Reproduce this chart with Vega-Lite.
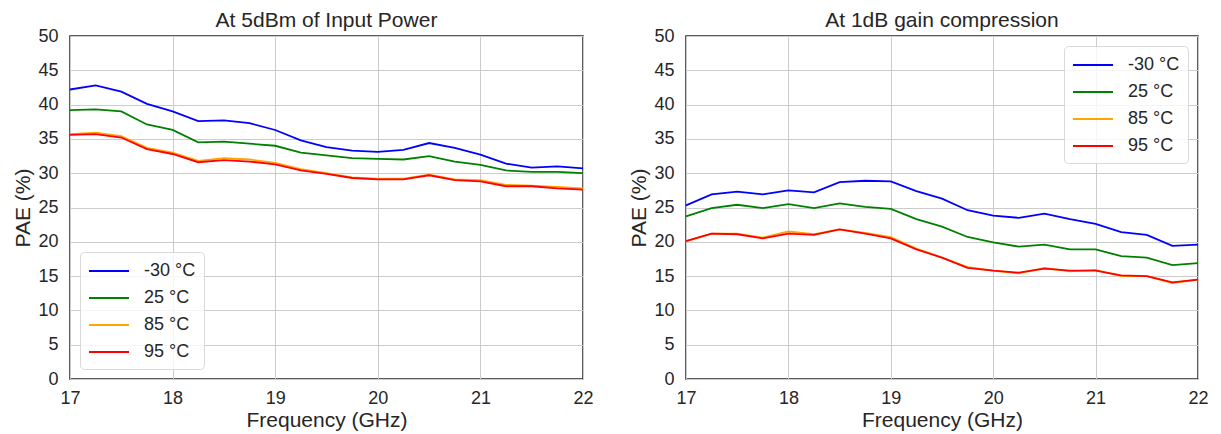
{
  "$schema": "https://vega.github.io/schema/vega-lite/v6.json",
  "padding": {"left": 12, "top": 9, "right": 5, "bottom": 0},
  "autosize": {"type": "pad"},
  "config": {
    "font": "Liberation Sans",
    "view": {"stroke": "#262626", "strokeWidth": 1.5},
    "axis": {"grid": true, "gridColor": "#cccccc", "gridWidth": 1, "domain": false, "ticks": false, "tickSize": 0, "labelFlush": false, "labelOverlap": false, "labelFontSize": 18, "labelColor": "#262626", "titleFontSize": 21, "titleFontWeight": "normal", "titleColor": "#262626"},
    "axisX": {"labelPadding": 10, "titlePadding": 2},
    "axisY": {"labelPadding": 12, "titlePadding": 4},
    "title": {"fontSize": 21, "fontWeight": "normal", "color": "#262626", "offset": -4},
    "legend": {"symbolType": "M-1,0H3", "symbolSize": 400, "symbolStrokeWidth": 2, "labelFontSize": 18, "labelColor": "#262626", "padding": 8, "rowPadding": 7, "labelOffset": 34, "fillColor": "rgba(255,255,255,0.8)", "strokeColor": "#d9d9d9", "cornerRadius": 4, "offset": 10},
    "concat": {"spacing": 34}
  },
  "data": {"values": [
    {"p":"L","f":17,"t":"-30 °C","v":42.2},{"p":"L","f":17.25,"t":"-30 °C","v":42.8},{"p":"L","f":17.5,"t":"-30 °C","v":41.9},{"p":"L","f":17.75,"t":"-30 °C","v":40.1},{"p":"L","f":18,"t":"-30 °C","v":39.0},{"p":"L","f":18.25,"t":"-30 °C","v":37.6},{"p":"L","f":18.5,"t":"-30 °C","v":37.7},{"p":"L","f":18.75,"t":"-30 °C","v":37.3},{"p":"L","f":19,"t":"-30 °C","v":36.3},{"p":"L","f":19.25,"t":"-30 °C","v":34.8},{"p":"L","f":19.5,"t":"-30 °C","v":33.8},{"p":"L","f":19.75,"t":"-30 °C","v":33.3},{"p":"L","f":20,"t":"-30 °C","v":33.1},{"p":"L","f":20.25,"t":"-30 °C","v":33.4},{"p":"L","f":20.5,"t":"-30 °C","v":34.4},{"p":"L","f":20.75,"t":"-30 °C","v":33.7},{"p":"L","f":21,"t":"-30 °C","v":32.7},{"p":"L","f":21.25,"t":"-30 °C","v":31.4},{"p":"L","f":21.5,"t":"-30 °C","v":30.8},{"p":"L","f":21.75,"t":"-30 °C","v":31.0},{"p":"L","f":22,"t":"-30 °C","v":30.7},
    {"p":"L","f":17,"t":"25 °C","v":39.2},{"p":"L","f":17.25,"t":"25 °C","v":39.3},{"p":"L","f":17.5,"t":"25 °C","v":39.0},{"p":"L","f":17.75,"t":"25 °C","v":37.1},{"p":"L","f":18,"t":"25 °C","v":36.3},{"p":"L","f":18.25,"t":"25 °C","v":34.5},{"p":"L","f":18.5,"t":"25 °C","v":34.6},{"p":"L","f":18.75,"t":"25 °C","v":34.3},{"p":"L","f":19,"t":"25 °C","v":34.0},{"p":"L","f":19.25,"t":"25 °C","v":33.0},{"p":"L","f":19.5,"t":"25 °C","v":32.6},{"p":"L","f":19.75,"t":"25 °C","v":32.2},{"p":"L","f":20,"t":"25 °C","v":32.1},{"p":"L","f":20.25,"t":"25 °C","v":32.0},{"p":"L","f":20.5,"t":"25 °C","v":32.5},{"p":"L","f":20.75,"t":"25 °C","v":31.7},{"p":"L","f":21,"t":"25 °C","v":31.2},{"p":"L","f":21.25,"t":"25 °C","v":30.4},{"p":"L","f":21.5,"t":"25 °C","v":30.2},{"p":"L","f":21.75,"t":"25 °C","v":30.2},{"p":"L","f":22,"t":"25 °C","v":30.0},
    {"p":"L","f":17,"t":"85 °C","v":35.7},{"p":"L","f":17.25,"t":"85 °C","v":35.9},{"p":"L","f":17.5,"t":"85 °C","v":35.4},{"p":"L","f":17.75,"t":"85 °C","v":33.7},{"p":"L","f":18,"t":"85 °C","v":33.0},{"p":"L","f":18.25,"t":"85 °C","v":31.8},{"p":"L","f":18.5,"t":"85 °C","v":32.2},{"p":"L","f":18.75,"t":"85 °C","v":32.0},{"p":"L","f":19,"t":"85 °C","v":31.5},{"p":"L","f":19.25,"t":"85 °C","v":30.6},{"p":"L","f":19.5,"t":"85 °C","v":30.0},{"p":"L","f":19.75,"t":"85 °C","v":29.4},{"p":"L","f":20,"t":"85 °C","v":29.2},{"p":"L","f":20.25,"t":"85 °C","v":29.2},{"p":"L","f":20.5,"t":"85 °C","v":29.8},{"p":"L","f":20.75,"t":"85 °C","v":29.1},{"p":"L","f":21,"t":"85 °C","v":29.0},{"p":"L","f":21.25,"t":"85 °C","v":28.3},{"p":"L","f":21.5,"t":"85 °C","v":28.2},{"p":"L","f":21.75,"t":"85 °C","v":28.0},{"p":"L","f":22,"t":"85 °C","v":27.8},
    {"p":"L","f":17,"t":"95 °C","v":35.6},{"p":"L","f":17.25,"t":"95 °C","v":35.7},{"p":"L","f":17.5,"t":"95 °C","v":35.2},{"p":"L","f":17.75,"t":"95 °C","v":33.5},{"p":"L","f":18,"t":"95 °C","v":32.8},{"p":"L","f":18.25,"t":"95 °C","v":31.6},{"p":"L","f":18.5,"t":"95 °C","v":31.9},{"p":"L","f":18.75,"t":"95 °C","v":31.7},{"p":"L","f":19,"t":"95 °C","v":31.3},{"p":"L","f":19.25,"t":"95 °C","v":30.4},{"p":"L","f":19.5,"t":"95 °C","v":29.9},{"p":"L","f":19.75,"t":"95 °C","v":29.3},{"p":"L","f":20,"t":"95 °C","v":29.1},{"p":"L","f":20.25,"t":"95 °C","v":29.1},{"p":"L","f":20.5,"t":"95 °C","v":29.7},{"p":"L","f":20.75,"t":"95 °C","v":29.0},{"p":"L","f":21,"t":"95 °C","v":28.8},{"p":"L","f":21.25,"t":"95 °C","v":28.1},{"p":"L","f":21.5,"t":"95 °C","v":28.1},{"p":"L","f":21.75,"t":"95 °C","v":27.8},{"p":"L","f":22,"t":"95 °C","v":27.6},
    {"p":"R","f":17,"t":"-30 °C","v":25.3},{"p":"R","f":17.25,"t":"-30 °C","v":26.9},{"p":"R","f":17.5,"t":"-30 °C","v":27.3},{"p":"R","f":17.75,"t":"-30 °C","v":26.9},{"p":"R","f":18,"t":"-30 °C","v":27.5},{"p":"R","f":18.25,"t":"-30 °C","v":27.2},{"p":"R","f":18.5,"t":"-30 °C","v":28.7},{"p":"R","f":18.75,"t":"-30 °C","v":28.9},{"p":"R","f":19,"t":"-30 °C","v":28.8},{"p":"R","f":19.25,"t":"-30 °C","v":27.4},{"p":"R","f":19.5,"t":"-30 °C","v":26.3},{"p":"R","f":19.75,"t":"-30 °C","v":24.6},{"p":"R","f":20,"t":"-30 °C","v":23.8},{"p":"R","f":20.25,"t":"-30 °C","v":23.5},{"p":"R","f":20.5,"t":"-30 °C","v":24.1},{"p":"R","f":20.75,"t":"-30 °C","v":23.3},{"p":"R","f":21,"t":"-30 °C","v":22.6},{"p":"R","f":21.25,"t":"-30 °C","v":21.4},{"p":"R","f":21.5,"t":"-30 °C","v":21.0},{"p":"R","f":21.75,"t":"-30 °C","v":19.4},{"p":"R","f":22,"t":"-30 °C","v":19.6},
    {"p":"R","f":17,"t":"25 °C","v":23.7},{"p":"R","f":17.25,"t":"25 °C","v":24.9},{"p":"R","f":17.5,"t":"25 °C","v":25.4},{"p":"R","f":17.75,"t":"25 °C","v":24.9},{"p":"R","f":18,"t":"25 °C","v":25.5},{"p":"R","f":18.25,"t":"25 °C","v":24.9},{"p":"R","f":18.5,"t":"25 °C","v":25.6},{"p":"R","f":18.75,"t":"25 °C","v":25.1},{"p":"R","f":19,"t":"25 °C","v":24.8},{"p":"R","f":19.25,"t":"25 °C","v":23.3},{"p":"R","f":19.5,"t":"25 °C","v":22.2},{"p":"R","f":19.75,"t":"25 °C","v":20.7},{"p":"R","f":20,"t":"25 °C","v":19.9},{"p":"R","f":20.25,"t":"25 °C","v":19.3},{"p":"R","f":20.5,"t":"25 °C","v":19.6},{"p":"R","f":20.75,"t":"25 °C","v":18.9},{"p":"R","f":21,"t":"25 °C","v":18.9},{"p":"R","f":21.25,"t":"25 °C","v":17.9},{"p":"R","f":21.5,"t":"25 °C","v":17.7},{"p":"R","f":21.75,"t":"25 °C","v":16.6},{"p":"R","f":22,"t":"25 °C","v":16.9},
    {"p":"R","f":17,"t":"85 °C","v":20.1},{"p":"R","f":17.25,"t":"85 °C","v":21.2},{"p":"R","f":17.5,"t":"85 °C","v":21.2},{"p":"R","f":17.75,"t":"85 °C","v":20.6},{"p":"R","f":18,"t":"85 °C","v":21.5},{"p":"R","f":18.25,"t":"85 °C","v":21.1},{"p":"R","f":18.5,"t":"85 °C","v":21.8},{"p":"R","f":18.75,"t":"85 °C","v":21.3},{"p":"R","f":19,"t":"85 °C","v":20.7},{"p":"R","f":19.25,"t":"85 °C","v":19.0},{"p":"R","f":19.5,"t":"85 °C","v":17.7},{"p":"R","f":19.75,"t":"85 °C","v":16.3},{"p":"R","f":20,"t":"85 °C","v":15.8},{"p":"R","f":20.25,"t":"85 °C","v":15.4},{"p":"R","f":20.5,"t":"85 °C","v":16.2},{"p":"R","f":20.75,"t":"85 °C","v":15.7},{"p":"R","f":21,"t":"85 °C","v":15.9},{"p":"R","f":21.25,"t":"85 °C","v":15.0},{"p":"R","f":21.5,"t":"85 °C","v":15.0},{"p":"R","f":21.75,"t":"85 °C","v":14.0},{"p":"R","f":22,"t":"85 °C","v":14.5},
    {"p":"R","f":17,"t":"95 °C","v":20.1},{"p":"R","f":17.25,"t":"95 °C","v":21.2},{"p":"R","f":17.5,"t":"95 °C","v":21.1},{"p":"R","f":17.75,"t":"95 °C","v":20.5},{"p":"R","f":18,"t":"95 °C","v":21.2},{"p":"R","f":18.25,"t":"95 °C","v":21.0},{"p":"R","f":18.5,"t":"95 °C","v":21.8},{"p":"R","f":18.75,"t":"95 °C","v":21.2},{"p":"R","f":19,"t":"95 °C","v":20.5},{"p":"R","f":19.25,"t":"95 °C","v":18.9},{"p":"R","f":19.5,"t":"95 °C","v":17.7},{"p":"R","f":19.75,"t":"95 °C","v":16.2},{"p":"R","f":20,"t":"95 °C","v":15.8},{"p":"R","f":20.25,"t":"95 °C","v":15.5},{"p":"R","f":20.5,"t":"95 °C","v":16.1},{"p":"R","f":20.75,"t":"95 °C","v":15.8},{"p":"R","f":21,"t":"95 °C","v":15.8},{"p":"R","f":21.25,"t":"95 °C","v":15.1},{"p":"R","f":21.5,"t":"95 °C","v":15.0},{"p":"R","f":21.75,"t":"95 °C","v":14.1},{"p":"R","f":22,"t":"95 °C","v":14.5}
  ]},
  "resolve": {"legend": {"color": "independent"}, "scale": {"color": "independent"}},
  "hconcat": [
    {
      "width": 513, "height": 343,
      "title": "At 5dBm of Input Power",
      "transform": [{"filter": "datum.p == 'L'"}],
      "mark": {"type": "line", "strokeWidth": 1.8},
      "encoding": {
        "x": {"field": "f", "type": "quantitative", "scale": {"domain": [17, 22], "nice": false, "zero": false}, "axis": {"values": [17, 18, 19, 20, 21, 22], "format": "d", "title": "Frequency (GHz)"}},
        "y": {"field": "v", "type": "quantitative", "scale": {"domain": [0, 50], "nice": false}, "axis": {"values": [0, 5, 10, 15, 20, 25, 30, 35, 40, 45, 50], "title": "PAE (%)"}},
        "color": {"field": "t", "type": "nominal", "scale": {"domain": ["-30 °C", "25 °C", "85 °C", "95 °C"], "range": ["#0000ff", "#008000", "#ffa500", "#ff0000"]}, "legend": {"title": null, "orient": "bottom-left"}}
      }
    },
    {
      "width": 512, "height": 343,
      "title": "At 1dB gain compression",
      "transform": [{"filter": "datum.p == 'R'"}],
      "mark": {"type": "line", "strokeWidth": 1.8},
      "encoding": {
        "x": {"field": "f", "type": "quantitative", "scale": {"domain": [17, 22], "nice": false, "zero": false}, "axis": {"values": [17, 18, 19, 20, 21, 22], "format": "d", "title": "Frequency (GHz)"}},
        "y": {"field": "v", "type": "quantitative", "scale": {"domain": [0, 50], "nice": false}, "axis": {"values": [0, 5, 10, 15, 20, 25, 30, 35, 40, 45, 50], "title": "PAE (%)"}},
        "color": {"field": "t", "type": "nominal", "scale": {"domain": ["-30 °C", "25 °C", "85 °C", "95 °C"], "range": ["#0000ff", "#008000", "#ffa500", "#ff0000"]}, "legend": {"title": null, "orient": "top-right"}}
      }
    }
  ]
}
